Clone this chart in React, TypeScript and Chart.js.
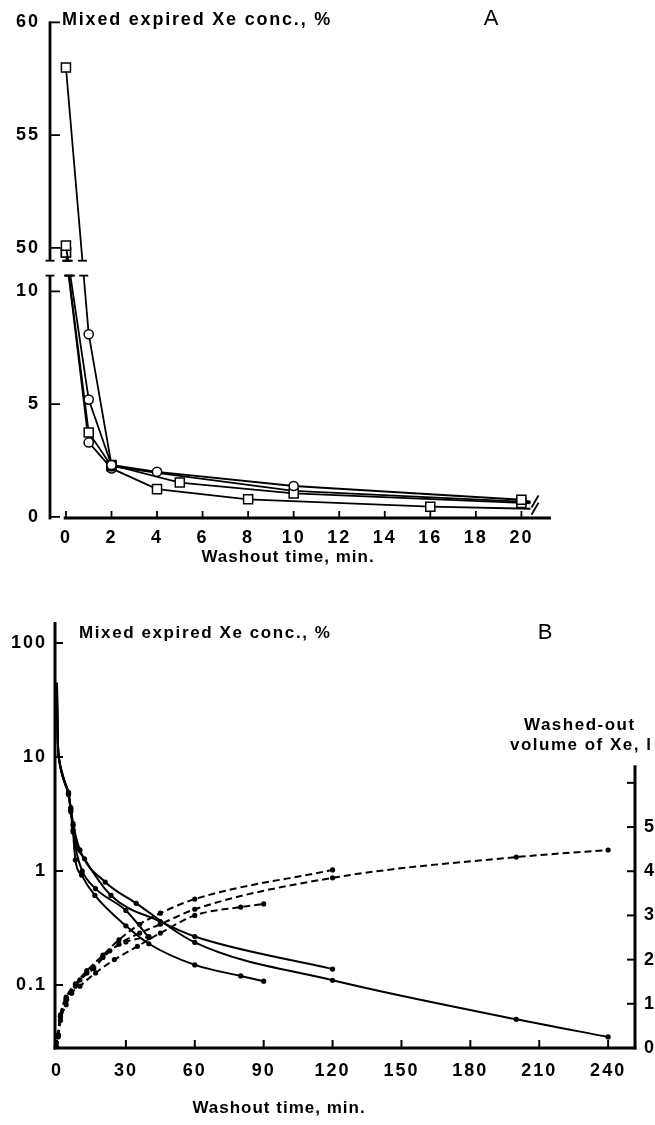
import React, { useEffect, useRef } from "react";
import { Chart, registerables } from "chart.js";

Chart.register(...registerables);

const FAMILY = '"Liberation Sans", Arial, Helvetica, sans-serif';
const TICK_FONT = { family: FAMILY, size: 18, weight: "bold" as const };

/* ---------------- Panel A: mixed expired Xe conc., % (broken axis) ---------------- */
const aXTicks = [0, 2, 4, 6, 8, 10, 12, 14, 16, 18, 20];
const aYTicksLow = [0, 5, 10];
const aYTicksHigh = [50, 55, 60];

// s = square marker, c = circle marker, - = no marker
const aTime1 = [0, 1, 2, 4, 10, 20, 20.4];
const aConc1 = [58, 8.1, 2.3, 2.0, 1.37, 0.76, 0.68];
const aMark1 = ["s", "c", "c", "c", "c", "s", "-"];

const aTime2 = [0, 1, 2, 5, 10, 20, 20.4];
const aConc2 = [50.1, 5.2, 2.3, 1.52, 1.04, 0.62, 0.6];
const aMark2 = ["s", "c", "s", "s", "s", "s", "-"];

const aTime3 = [0, 1, 2, 4, 10, 20, 20.4];
const aConc3 = [49.8, 3.74, 2.25, 1.95, 1.15, 0.68, 0.64];
const aMark3 = ["s", "s", "s", "-", "-", "-", "-"];

const aTime4 = [0, 1, 2, 4, 8, 16, 20.4];
const aConc4 = [49.8, 3.3, 2.15, 1.23, 0.78, 0.45, 0.36];
const aMark4 = ["s", "c", "c", "s", "s", "s", "-"];

const aTimes = [aTime1, aTime2, aTime3, aTime4];
const aConcs = [aConc1, aConc2, aConc3, aConc4];
const aMarks = [aMark1, aMark2, aMark3, aMark4];
const aContinued = [true, false, false, true];

// axis break: the 50-60 % segment is drawn shifted down onto the same axis
const A_SHIFT = 38.07;
const A_GAP_LOW = 10.7;
const A_GAP_HIGH = 11.36;
const aPos = (v: number) => (v >= 30 ? v - A_SHIFT : v);

/* ---------------- Panel B: log conc. and washed-out volume ---------------- */
const bXTicks = [0, 30, 60, 90, 120, 150, 180, 210, 240];
const bYTicks = [0.1, 1, 10, 100];
const bYLabels = ["0.1", "1", "10", "100"];
const bY2Ticks = [0, 1, 2, 3, 4, 5, 6];
const bY2Labels = ["0", "1", "2", "3", "4", "5", ""];

// concentration curves (%)
const cTimeA = [0, 0.1, 0.25, 0.5, 1, 2, 3.5, 5, 6, 7, 10, 21, 34.5, 60, 120, 200, 240];
const cConcA = [45, 30, 18, 12, 9.5, 7.6, 6, 4.9, 3.6, 2.6, 1.53, 0.8, 0.52, 0.236, 0.11, 0.05, 0.035];
const cTimeB = [0, 0.1, 0.25, 0.5, 1, 2, 3.5, 5, 6, 7, 8, 12, 23.5, 45, 60, 120];
const cConcB = [42, 28, 17, 11.5, 9.3, 7.4, 5.9, 4.8, 3.5, 2.5, 1.82, 1.28, 0.61, 0.36, 0.266, 0.138];
const cTimeC = [0, 0.1, 0.25, 0.5, 1, 2, 3.5, 5, 6, 7, 8, 10.7, 16.5, 30, 40, 60, 80, 90];
const cConcC = [40, 27, 17, 11.5, 9.2, 7.3, 5.8, 4.7, 3.3, 2.2, 1.25, 0.92, 0.61, 0.33, 0.23, 0.15, 0.12, 0.108];
const cTimeD = [0, 0.1, 0.25, 0.5, 1, 2, 3.5, 5, 6, 7, 8.1, 11, 16.8, 30, 40];
const cConcD = [40, 27, 17, 11.5, 9.2, 7.3, 5.8, 4.7, 3.4, 2.3, 1.6, 1.0, 0.7, 0.45, 0.26];

// washed-out volume curves (l)
const vTimeA = [0, 0.5, 1.5, 4, 8, 13, 20, 27, 36, 45, 60, 120, 200, 240];
const vVolA = [0, 0.28, 0.7, 1.1, 1.4, 1.7, 2.05, 2.35, 2.6, 2.8, 3.14, 3.85, 4.32, 4.48];
const vTimeB = [0, 0.5, 1.5, 4, 8, 13, 20, 27, 36, 45, 60, 120];
const vVolB = [0, 0.3, 0.75, 1.15, 1.45, 1.75, 2.1, 2.45, 2.8, 3.05, 3.37, 4.03];
const vTimeC = [0, 0.5, 1.5, 4, 6.4, 10, 16.8, 25, 35, 45, 60, 80, 90];
const vVolC = [0, 0.25, 0.62, 0.98, 1.24, 1.4, 1.7, 2.0, 2.3, 2.6, 3.0, 3.19, 3.26];
const vTimeD = [0, 0.5, 1.5, 4, 10, 16, 23, 30, 40];
const vVolD = [0, 0.3, 0.72, 1.12, 1.54, 1.8, 2.2, 2.4, 2.52];

const cTimes = [cTimeA, cTimeB, cTimeC, cTimeD];
const cConcs = [cConcA, cConcB, cConcC, cConcD];
const vTimes = [vTimeA, vTimeB, vTimeC, vTimeD];
const vVols = [vVolA, vVolB, vVolC, vVolD];

/* ---------------- helpers ---------------- */
function seg(ctx: CanvasRenderingContext2D, x1: number, y1: number, x2: number, y2: number) {
  ctx.beginPath();
  ctx.moveTo(x1, y1);
  ctx.lineTo(x2, y2);
  ctx.stroke();
}

function text(
  ctx: CanvasRenderingContext2D,
  s: string,
  x: number,
  y: number,
  font: string,
  align: CanvasTextAlign,
  spacing: string
) {
  ctx.save();
  ctx.font = font;
  ctx.fillStyle = "#000";
  ctx.textAlign = align;
  ctx.textBaseline = "middle";
  (ctx as any).letterSpacing = spacing;
  ctx.fillText(s, x, y);
  ctx.restore();
}

const spacingPlugin = {
  id: "spacing",
  beforeDraw(chart: any) {
    (chart.ctx as any).letterSpacing = "2px";
  },
};

const panelAPlugin = {
  id: "panelA",
  afterDatasetsDraw(chart: any) {
    const { ctx, chartArea: ca, scales } = chart;
    const y = scales.y;
    const yTop = y.getPixelForValue(A_GAP_HIGH);
    const yBot = y.getPixelForValue(A_GAP_LOW);
    ctx.save();
    ctx.fillStyle = "#fff";
    ctx.fillRect(ca.left - 8, yTop, ca.right - ca.left + 16, yBot - yTop);
    ctx.strokeStyle = "#000";
    ctx.lineWidth = 1.8;
    chart.data.datasets.forEach((_ds: any, di: number) => {
      const pts = chart.getDatasetMeta(di).data;
      for (let i = 0; i < pts.length - 1; i++) {
        const p0 = pts[i];
        const p1 = pts[i + 1];
        if (p0.y < yTop && p1.y > yBot) {
          const xa = p0.x + ((p1.x - p0.x) * (yTop - p0.y)) / (p1.y - p0.y);
          const xb = p0.x + ((p1.x - p0.x) * (yBot - p0.y)) / (p1.y - p0.y);
          seg(ctx, xa - 4.5, yTop, xa + 4.5, yTop);
          seg(ctx, xb - 4.5, yBot, xb + 4.5, yBot);
        }
      }
      if (aContinued[di]) {
        const p = pts[pts.length - 1];
        seg(ctx, p.x + 1, p.y + 6, p.x + 8, p.y - 6);
      }
    });
    ctx.restore();
  },
  afterDraw(chart: any) {
    const { ctx, chartArea: ca, scales } = chart;
    const x = scales.x;
    const y = scales.y;
    const yTop = y.getPixelForValue(A_GAP_HIGH);
    const yBot = y.getPixelForValue(A_GAP_LOW);
    const y60 = y.getPixelForValue(aPos(60));
    ctx.save();
    ctx.strokeStyle = "#000";
    ctx.lineWidth = 2.8;
    seg(ctx, ca.left, y60 - 1, ca.left, yTop);
    seg(ctx, ca.left, yBot, ca.left, ca.bottom + 1.4);
    seg(ctx, x.getPixelForValue(-0.1), ca.bottom, ca.right, ca.bottom);
    ctx.lineWidth = 1.8;
    seg(ctx, ca.left - 4.5, yTop, ca.left + 4.5, yTop);
    seg(ctx, ca.left - 4.5, yBot, ca.left + 4.5, yBot);
    [...aYTicksLow, ...aYTicksHigh].forEach((v) => {
      const p = y.getPixelForValue(aPos(v));
      seg(ctx, ca.left, p, ca.left + 10, p);
    });
    aXTicks.forEach((v) => {
      const p = x.getPixelForValue(v);
      seg(ctx, p, ca.bottom, p, ca.bottom - 7);
    });
    ctx.restore();
    text(ctx, "Mixed expired Xe conc., %", 62, 20, `bold 18px ${FAMILY}`, "left", "1.8px");
    text(ctx, "A", 491, 19, `22px ${FAMILY}`, "center", "0px");
    text(ctx, "Washout time, min.", 288, 557, `bold 17px ${FAMILY}`, "center", "1px");
  },
};

const panelBPlugin = {
  id: "panelB",
  afterDraw(chart: any) {
    const { ctx, chartArea: ca, scales } = chart;
    const x = scales.x;
    const y = scales.y;
    const y2 = scales.y2;
    ctx.save();
    ctx.strokeStyle = "#000";
    ctx.lineWidth = 3;
    seg(ctx, ca.left, ca.top, ca.left, ca.bottom + 1.5);
    seg(ctx, ca.left - 1.5, ca.bottom, ca.right + 1.5, ca.bottom);
    seg(ctx, ca.right, y2.getPixelForValue(6.4), ca.right, ca.bottom + 1.5);
    ctx.lineWidth = 2;
    bYTicks.forEach((v) => {
      const p = y.getPixelForValue(v);
      seg(ctx, ca.left, p, ca.left + 8, p);
    });
    bXTicks.forEach((v) => {
      const p = x.getPixelForValue(v);
      seg(ctx, p, ca.bottom, p, ca.bottom - 8);
    });
    bY2Ticks.slice(1).forEach((v) => {
      const p = y2.getPixelForValue(v);
      seg(ctx, ca.right, p, ca.right - 8, p);
    });
    ctx.restore();
    text(ctx, "Mixed expired Xe conc., %", 79, 43, `bold 17px ${FAMILY}`, "left", "1.6px");
    text(ctx, "B", 545, 43, `22px ${FAMILY}`, "center", "0px");
    text(ctx, "Washed-out", 524, 135, `bold 17px ${FAMILY}`, "left", "1.5px");
    text(ctx, "volume of Xe, l", 510, 155, `bold 17px ${FAMILY}`, "left", "1.5px");
    text(ctx, "Washout time, min.", 279, 518, `bold 17px ${FAMILY}`, "center", "1px");
  },
};

const baseOptions = {
  animation: false,
  responsive: false,
  devicePixelRatio: 1,
  events: [],
  plugins: { legend: { display: false }, tooltip: { enabled: false }, title: { display: false } },
};

const hiddenGrid = { display: false, drawTicks: false };
const hiddenBorder = { display: false };

function configA(): any {
  const datasets = aTimes.map((t, si) => ({
    data: t.map((xv, i) => ({ x: xv, y: aPos(aConcs[si][i]) })),
    borderColor: "#000",
    borderWidth: 1.8,
    tension: 0,
    pointStyle: aMarks[si].map((m) => (m === "s" ? "rect" : "circle")),
    pointRadius: aMarks[si].map((m) => (m === "s" ? 6.4 : m === "c" ? 4.6 : 0)),
    pointBackgroundColor: "#fff",
    pointBorderColor: "#000",
    pointBorderWidth: 1.5,
    clip: 10,
  }));
  const yVals = [...aYTicksLow, ...aYTicksHigh];
  return {
    type: "line",
    data: { datasets },
    options: {
      ...baseOptions,
      layout: { padding: { top: 15, right: 104, left: 0, bottom: 0 } },
      scales: {
        x: {
          type: "linear",
          min: -0.7,
          max: 21.3,
          afterBuildTicks: (s: any) => {
            s.ticks = aXTicks.map((v) => ({ value: v }));
          },
          afterFit: (s: any) => {
            s.height = 72;
          },
          grid: hiddenGrid,
          border: hiddenBorder,
          ticks: {
            font: TICK_FONT,
            color: "#000",
            padding: 9,
            maxRotation: 0,
            autoSkip: false,
            callback: (v: any) => String(v),
          },
        },
        y: {
          type: "linear",
          min: -0.05,
          max: 22.0,
          afterBuildTicks: (s: any) => {
            s.ticks = yVals.map((v) => ({ value: aPos(v) }));
          },
          afterFit: (s: any) => {
            s.width = 50;
          },
          grid: hiddenGrid,
          border: hiddenBorder,
          ticks: {
            font: TICK_FONT,
            color: "#000",
            padding: 10,
            autoSkip: false,
            callback: (_v: any, i: number) => String(yVals[i]),
          },
        },
      },
    },
    plugins: [spacingPlugin, panelAPlugin],
  };
}

function configB(): any {
  const solid = cTimes.map((t, si) => ({
    data: t.map((xv, i) => ({ x: xv, y: cConcs[si][i] })),
    yAxisID: "y",
    borderColor: "#000",
    borderWidth: 2,
    cubicInterpolationMode: "monotone",
    pointRadius: (c: any) => (c.raw && c.raw.x < 4 ? 0 : 2.6),
    pointBackgroundColor: "#000",
    pointBorderWidth: 0,
  }));
  const dashed = vTimes.map((t, si) => ({
    data: t.map((xv, i) => ({ x: xv, y: vVols[si][i] })),
    yAxisID: "y2",
    borderColor: "#000",
    borderWidth: 2,
    borderDash: [7, 4],
    cubicInterpolationMode: "monotone",
    pointRadius: 2.6,
    pointBackgroundColor: "#000",
    pointBorderWidth: 0,
  }));
  return {
    type: "line",
    data: { datasets: [...solid, ...dashed] },
    options: {
      ...baseOptions,
      layout: { padding: { top: 32, right: 0, left: 0, bottom: 0 } },
      scales: {
        x: {
          type: "linear",
          min: -0.87,
          max: 251.7,
          afterBuildTicks: (s: any) => {
            s.ticks = bXTicks.map((v) => ({ value: v }));
          },
          afterFit: (s: any) => {
            s.height = 77;
          },
          grid: hiddenGrid,
          border: hiddenBorder,
          ticks: {
            font: TICK_FONT,
            color: "#000",
            padding: 12,
            maxRotation: 0,
            autoSkip: false,
            callback: (v: any) => String(v),
          },
        },
        y: {
          type: "logarithmic",
          min: 0.028,
          max: 152.8,
          afterBuildTicks: (s: any) => {
            s.ticks = bYTicks.map((v) => ({ value: v }));
          },
          afterFit: (s: any) => {
            s.width = 55;
          },
          grid: hiddenGrid,
          border: hiddenBorder,
          ticks: {
            font: TICK_FONT,
            color: "#000",
            padding: 8,
            autoSkip: false,
            callback: (_v: any, i: number) => bYLabels[i],
          },
        },
        y2: {
          type: "linear",
          position: "right",
          min: 0,
          max: 9.64,
          afterBuildTicks: (s: any) => {
            s.ticks = bY2Ticks.map((v) => ({ value: v }));
          },
          afterFit: (s: any) => {
            s.width = 45;
          },
          grid: hiddenGrid,
          border: hiddenBorder,
          ticks: {
            font: TICK_FONT,
            color: "#000",
            padding: 9,
            autoSkip: false,
            callback: (_v: any, i: number) => bY2Labels[i],
          },
        },
      },
    },
    plugins: [spacingPlugin, panelBPlugin],
  };
}

export default function App() {
  const refA = useRef<HTMLCanvasElement>(null);
  const refB = useRef<HTMLCanvasElement>(null);
  useEffect(() => {
    const ca = new Chart(refA.current as HTMLCanvasElement, configA());
    const cb = new Chart(refB.current as HTMLCanvasElement, configB());
    return () => {
      ca.destroy();
      cb.destroy();
    };
  }, []);
  return (
    <div
      style={{
        position: "fixed",
        left: 0,
        top: 0,
        width: 655,
        height: 1125,
        overflow: "hidden",
        background: "#fff",
      }}
    >
      <canvas ref={refA} width={655} height={590} style={{ position: "absolute", left: 0, top: 0 }} />
      <canvas ref={refB} width={680} height={535} style={{ position: "absolute", left: 0, top: 590 }} />
    </div>
  );
}
